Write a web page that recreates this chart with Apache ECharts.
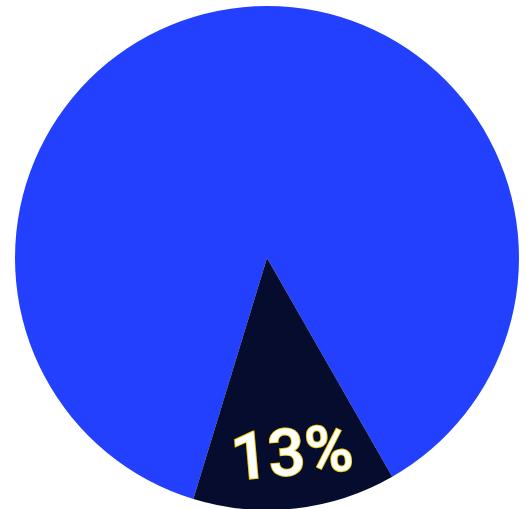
<!DOCTYPE html>
<html>
<head>
<meta charset="utf-8">
<script src="https://cdn.jsdelivr.net/npm/echarts@6/dist/echarts.min.js"></script>
<style>
html,body{margin:0;padding:0;background:#fff;}
#c{width:530px;height:509px;}
</style>
</head>
<body>
<div id="c"></div>
<script>
var categories = ['Other', 'Share'];
var values = [87, 13];
var colors = ['#2440ff', '#050c2e'];

var chart = echarts.init(document.getElementById('c'), null, {renderer: 'canvas'});
var pieData = categories.map(function (n, i) {
  return { name: n, value: values[i], itemStyle: { color: colors[i] } };
});
var labelData = categories.map(function (n, i) {
  return {
    name: n, value: values[i],
    itemStyle: { color: 'rgba(0,0,0,0)' },
    label: { show: i === 1 }
  };
});
chart.setOption({
  animation: false,
  series: [
    {
      type: 'pie',
      center: [267, 258],
      radius: [0, 252],
      startAngle: 253,
      clockwise: true,
      silent: true,
      label: { show: false },
      labelLine: { show: false },
      itemStyle: { borderWidth: 0 },
      data: pieData
    },
    {
      type: 'pie',
      center: [267, 258],
      radius: [146, 252],
      startAngle: 253,
      clockwise: true,
      silent: true,
      labelLine: { show: false },
      itemStyle: { borderWidth: 0 },
      label: {
        position: 'inside',
        formatter: '{d}%',
        rotate: 5,
        offset: [3, 0],
        fontSize: 65,
        fontWeight: 500,
        fontFamily: 'Roboto, Liberation Sans, Arial, sans-serif',
        color: '#ffffff',
        textBorderColor: '#f2cc00',
        textBorderWidth: 2
      },
      data: labelData
    }
  ]
});
</script>
</body>
</html>
